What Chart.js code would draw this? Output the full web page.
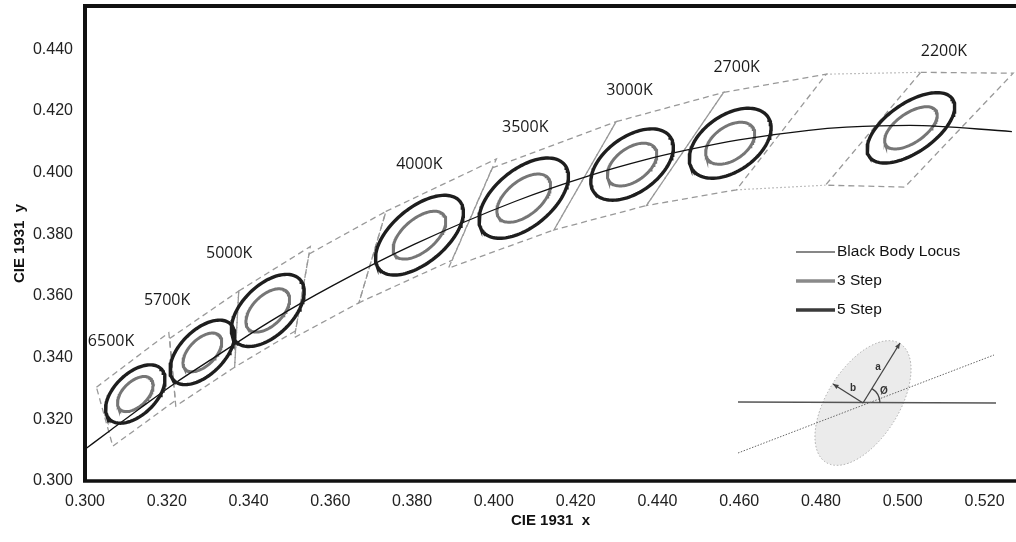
<!DOCTYPE html>
<html>
<head>
<meta charset="utf-8">
<script src="https://cdn.jsdelivr.net/npm/chart.js@4.4.1/dist/chart.umd.min.js"></script>
<style>
  html, body { margin: 0; padding: 0; background: #fff; }
  #wrap { width: 1016px; height: 542px; }
</style>
</head>
<body>
<div id="wrap"><canvas id="cieChart" width="1016" height="542"></canvas></div>
<script>
// axis ticks
var xTicks = [0.300, 0.320, 0.340, 0.360, 0.380, 0.400, 0.420, 0.440, 0.460, 0.480, 0.500, 0.520];
var yTicks = [0.300, 0.320, 0.340, 0.360, 0.380, 0.400, 0.420, 0.440];

// black body locus
var locusX = [0.2998, 0.3064, 0.3135, 0.3221, 0.3325, 0.3451, 0.3608, 0.3805, 0.4053, 0.4234, 0.4369, 0.4476, 0.4599, 0.4770, 0.4862, 0.5018, 0.5267];
var locusY = [0.3101, 0.3166, 0.3236, 0.3318, 0.3408, 0.3516, 0.3635, 0.3767, 0.3907, 0.3990, 0.4041, 0.4074, 0.4106, 0.4137, 0.4147, 0.4153, 0.4133];

// MacAdam ellipses (1-step size): centre, semi-axes, angle in degrees
var cctNames = ['6500K', '5700K', '5000K', '4000K', '3500K', '3000K', '2700K', '2200K'];
var ellX = [0.3123, 0.3287, 0.3447, 0.3818, 0.4073, 0.4338, 0.4578, 0.5020];
var ellY = [0.3282, 0.3417, 0.3553, 0.3797, 0.3917, 0.4026, 0.4095, 0.4145];
var ellA = [0.00210, 0.00233, 0.00260, 0.00300, 0.00300, 0.00265, 0.00258, 0.00280];
var ellB = [0.00113, 0.00120, 0.00137, 0.00152, 0.00160, 0.00155, 0.00158, 0.00140];
var ellTheta = [59, 59, 59, 54, 54, 53, 53, 48];
var steps = [3, 5];

// label anchors for the CCT names
var labelX = [0.3007, 0.3144, 0.3296, 0.3761, 0.4020, 0.4275, 0.4537, 0.5044];
var labelY = [0.3452, 0.3585, 0.3737, 0.4026, 0.4146, 0.4265, 0.4340, 0.4392];

// ANSI quadrangles (upper-left, upper-right, lower-right, lower-left)
var quadNames = ['6500K', '5700K', '5000K', '4500K', '4000K', '3500K', '3000K', '2700K', '2200K'];
var quadX = [
  [0.3028, 0.3205, 0.3221, 0.3068],
  [0.3207, 0.3376, 0.3366, 0.3222],
  [0.3376, 0.3551, 0.3515, 0.3366],
  [0.3548, 0.3736, 0.3670, 0.3512],
  [0.3736, 0.4006, 0.3898, 0.3670],
  [0.3996, 0.4299, 0.4147, 0.3889],
  [0.4299, 0.4562, 0.4373, 0.4147],
  [0.4562, 0.4813, 0.4593, 0.4373],
  [0.5044, 0.5270, 0.5005, 0.4811]
];
var quadY = [
  [0.3304, 0.3481, 0.3261, 0.3113],
  [0.3462, 0.3616, 0.3369, 0.3243],
  [0.3616, 0.3760, 0.3487, 0.3369],
  [0.3736, 0.3874, 0.3578, 0.3465],
  [0.3874, 0.4044, 0.3716, 0.3578],
  [0.4015, 0.4165, 0.3814, 0.3690],
  [0.4165, 0.4260, 0.3893, 0.3814],
  [0.4260, 0.4319, 0.3944, 0.3893],
  [0.4325, 0.4322, 0.3953, 0.3959]
];
// dotted gap between 2700K and 2200K
var gapTopX = [0.4813, 0.5044], gapTopY = [0.4319, 0.4325];
var gapBotX = [0.4593, 0.4811], gapBotY = [0.3944, 0.3959];

function toPoints(xs, ys) {
  var pts = [];
  for (var i = 0; i < xs.length; i++) pts.push({x: xs[i], y: ys[i]});
  return pts;
}

function ellipsePoints(cx, cy, a, b, deg) {
  var t = deg * Math.PI / 180, pts = [];
  for (var i = 0; i <= 120; i++) {
    var u = i / 120 * 2 * Math.PI;
    pts.push({
      x: cx + a * Math.cos(u) * Math.cos(t) - b * Math.sin(u) * Math.sin(t),
      y: cy + a * Math.cos(u) * Math.sin(t) + b * Math.sin(u) * Math.cos(t)
    });
  }
  return pts;
}

var datasets = [];

for (var q = 0; q < quadNames.length; q++) {
  var qp = toPoints(quadX[q], quadY[q]);
  qp.push(qp[0]);
  datasets.push({
    label: quadNames[q] + ' quad', data: qp, showLine: true, pointRadius: 0,
    borderColor: '#999999', borderWidth: 1.3, borderDash: [6, 4], order: 3
  });
}
datasets.push({
  label: 'gap top', data: toPoints(gapTopX, gapTopY), showLine: true, pointRadius: 0,
  borderColor: '#aaaaaa', borderWidth: 1.2, borderDash: [1.5, 2.5], order: 3
});
datasets.push({
  label: 'gap bottom', data: toPoints(gapBotX, gapBotY), showLine: true, pointRadius: 0,
  borderColor: '#aaaaaa', borderWidth: 1.2, borderDash: [1.5, 2.5], order: 3
});

datasets.push({
  label: 'Black Body Locus', data: toPoints(locusX, locusY), showLine: true, pointRadius: 0,
  borderColor: '#111', borderWidth: 1.3, cubicInterpolationMode: 'monotone', order: 1
});

for (var e = 0; e < cctNames.length; e++) {
  for (var s = 0; s < steps.length; s++) {
    var n = steps[s];
    datasets.push({
      label: cctNames[e] + ' ' + n + ' step',
      data: ellipsePoints(ellX[e], ellY[e], ellA[e] * n, ellB[e] * n, ellTheta[e]),
      showLine: true, pointRadius: 0,
      borderColor: n === 5 ? '#1e1e1e' : '#767676',
      borderWidth: n === 5 ? 3.4 : 3,
      order: n === 5 ? 0 : 2
    });
  }
}

var decor = {
  id: 'decor',
  afterDatasetsDraw: function (chart) {
    var ctx = chart.ctx, xs = chart.scales.x, ys = chart.scales.y, ca = chart.chartArea;
    ctx.save();

    // CCT labels
    ctx.fillStyle = '#1a1a1a';
    ctx.font = '16px "Open Sans"';
    ctx.textAlign = 'left';
    ctx.textBaseline = 'middle';
    for (var i = 0; i < cctNames.length; i++) {
      ctx.fillText(cctNames[i], xs.getPixelForValue(labelX[i]), ys.getPixelForValue(labelY[i]));
    }

    // legend
    ctx.lineCap = 'butt';
    ctx.strokeStyle = '#111'; ctx.lineWidth = 1.2;
    ctx.beginPath(); ctx.moveTo(796, 252); ctx.lineTo(835, 252); ctx.stroke();
    ctx.strokeStyle = '#8a8a8a'; ctx.lineWidth = 3.5;
    ctx.beginPath(); ctx.moveTo(796, 281); ctx.lineTo(835, 281); ctx.stroke();
    ctx.strokeStyle = '#3a3a3a'; ctx.lineWidth = 3.5;
    ctx.beginPath(); ctx.moveTo(796, 310); ctx.lineTo(835, 310); ctx.stroke();
    ctx.fillStyle = '#111';
    ctx.font = '15.5px "Liberation Sans"';
    ctx.fillText('Black Body Locus', 837, 252);
    ctx.fillText('3 Step', 837, 281);
    ctx.fillText('5 Step', 837, 310);

    // inset sketch of the ellipse parameters
    var cx = 863, cy = 403, rot = -58 * Math.PI / 180;
    ctx.fillStyle = 'rgba(210,210,210,0.45)';
    ctx.beginPath(); ctx.ellipse(cx, cy, 70, 36, rot, 0, 2 * Math.PI); ctx.fill();
    ctx.setLineDash([1.5, 2]); ctx.strokeStyle = '#aaa'; ctx.lineWidth = 1;
    ctx.stroke();
    ctx.setLineDash([]);
    ctx.strokeStyle = '#555'; ctx.lineWidth = 1.6;
    ctx.beginPath(); ctx.moveTo(738, 402); ctx.lineTo(996, 403); ctx.stroke();
    ctx.setLineDash([1.5, 1.5]); ctx.strokeStyle = '#666'; ctx.lineWidth = 1;
    ctx.beginPath(); ctx.moveTo(738, 453); ctx.lineTo(994, 355); ctx.stroke();
    ctx.setLineDash([]);
    ctx.strokeStyle = '#444'; ctx.lineWidth = 1.3;
    function arrow(x1, y1, x2, y2) {
      var ang = Math.atan2(y2 - y1, x2 - x1);
      ctx.beginPath(); ctx.moveTo(x1, y1); ctx.lineTo(x2, y2); ctx.stroke();
      ctx.beginPath();
      ctx.moveTo(x2, y2);
      ctx.lineTo(x2 - 6 * Math.cos(ang - 0.4), y2 - 6 * Math.sin(ang - 0.4));
      ctx.lineTo(x2 - 6 * Math.cos(ang + 0.4), y2 - 6 * Math.sin(ang + 0.4));
      ctx.closePath(); ctx.fillStyle = '#444'; ctx.fill();
    }
    arrow(cx, cy, 900, 343);
    arrow(cx, cy, 833, 384);
    ctx.beginPath(); ctx.arc(cx, cy, 17, -58 * Math.PI / 180, 0); ctx.stroke();
    ctx.fillStyle = '#333';
    ctx.font = 'bold 10px "Liberation Sans"';
    ctx.textAlign = 'center';
    ctx.fillText('a', 878, 367);
    ctx.fillText('b', 853, 388);
    ctx.fillText('\u00D8', 884, 391);

    // frame: left, top, bottom
    ctx.strokeStyle = '#111'; ctx.lineWidth = 4;
    ctx.beginPath();
    ctx.moveTo(ca.left, ca.bottom); ctx.lineTo(ca.left, ca.top); ctx.lineTo(ca.right, ca.top);
    ctx.stroke();
    ctx.lineWidth = 3.5;
    ctx.beginPath(); ctx.moveTo(ca.left - 2, ca.bottom); ctx.lineTo(ca.right, ca.bottom); ctx.stroke();
    ctx.restore();
  }
};

new Chart(document.getElementById('cieChart'), {
  type: 'scatter',
  data: { datasets: datasets },
  plugins: [decor],
  options: {
    responsive: false,
    animation: false,
    devicePixelRatio: 1,
    layout: { padding: { top: 6, right: 0, left: 0, bottom: 0 } },
    plugins: { legend: { display: false }, tooltip: { enabled: false } },
    scales: {
      x: {
        type: 'linear', min: 0.300, max: 0.5277,
        afterBuildTicks: function (s) { s.ticks = xTicks.map(function (v) { return {value: v}; }); },
        afterFit: function (s) { s.height = 61; s.paddingLeft = 0; s.paddingRight = 0; },
        grid: { display: false, drawTicks: false },
        border: { display: false },
        ticks: {
          autoSkip: false, maxRotation: 0, padding: 11, color: '#222',
          font: { family: '"Liberation Sans"', size: 16 },
          callback: function (v) { return v.toFixed(3); }
        },
        title: {
          display: true, text: 'CIE 1931  x', color: '#111',
          font: { family: '"Liberation Sans"', size: 15, weight: 'bold' },
          padding: { top: 0, bottom: 12 }
        }
      },
      y: {
        type: 'linear', min: 0.300, max: 0.454,
        afterBuildTicks: function (s) { s.ticks = yTicks.map(function (v) { return {value: v}; }); },
        afterFit: function (s) { s.width = 85; s.paddingTop = 0; s.paddingBottom = 0; },
        grid: { display: false, drawTicks: false },
        border: { display: false },
        ticks: {
          padding: 12, color: '#222',
          font: { family: '"Liberation Sans"', size: 16 },
          callback: function (v) { return v.toFixed(3); }
        },
        title: {
          display: true, text: 'CIE 1931  y', color: '#111',
          font: { family: '"Liberation Sans"', size: 15, weight: 'bold' },
          padding: { top: 11, bottom: 0 }
        }
      }
    }
  }
});
</script>
</body>
</html>
